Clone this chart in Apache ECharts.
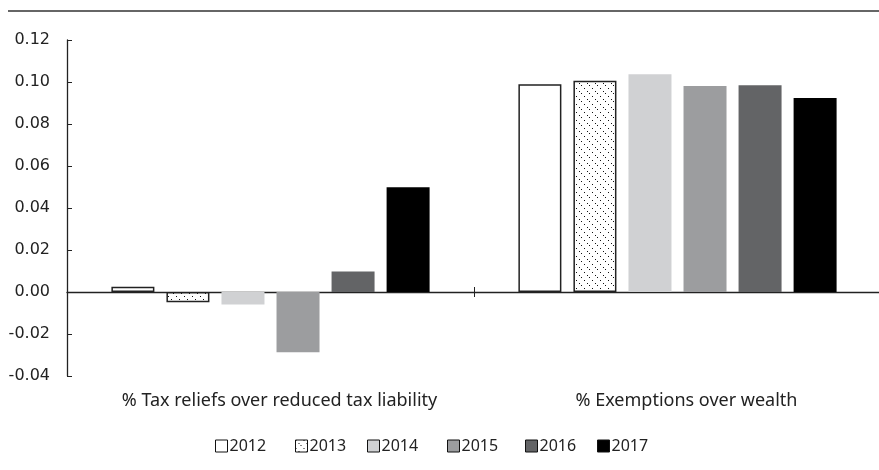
<!DOCTYPE html>
<html>
<head>
<meta charset="utf-8">
<script src="https://cdn.jsdelivr.net/npm/echarts@6/dist/echarts.min.js"></script>
<style>html,body{margin:0;padding:0;background:#fff}#c{width:879px;height:470px}</style>
</head>
<body>
<div id="c"></div>
<script>
var categories = ['% Tax reliefs over reduced tax liability', '% Exemptions over wealth'];
var years = ['2012', '2013', '2014', '2015', '2016', '2017'];
var v2012 = [0.0025, 0.0989];
var v2013 = [-0.0049, 0.1006];
var v2014 = [-0.0060, 0.1037];
var v2015 = [-0.0287, 0.0981];
var v2016 = [0.0098, 0.0984];
var v2017 = [0.0499, 0.0924];
var yTicks = { min: -0.04, max: 0.12, interval: 0.02 };

var seriesValues = [v2012, v2013, v2014, v2015, v2016, v2017];

// dotted diagonal pattern for 2013
var pc = document.createElement('canvas');
pc.width = 8; pc.height = 8;
var pctx = pc.getContext('2d');
pctx.fillStyle = '#fff';
pctx.fillRect(0, 0, 8, 8);
pctx.fillStyle = '#111';
pctx.fillRect(0, 0, 1, 1);
pctx.fillRect(3, 3, 1, 1);
pctx.fillRect(5, 5, 1, 1);

var styles = [
  { color: '#ffffff', borderColor: '#222', borderWidth: 1.5 },
  { color: { image: pc, repeat: 'repeat' }, borderColor: '#222', borderWidth: 1.5 },
  { color: '#d0d1d3' },
  { color: '#9c9d9f' },
  { color: '#636466' },
  { color: '#000000' }
];
var legendLefts = [210, 290, 362, 442, 520, 592];

var series = years.map(function (y, i) {
  return {
    name: y,
    type: 'bar',
    data: seriesValues[i],
    barWidth: 43,
    barGap: '28%',
    itemStyle: styles[i],
    emphasis: { disabled: true }
  };
});

var legends = years.map(function (y, i) {
  return {
    data: [{ name: y, icon: 'rect', itemStyle: { borderColor: '#111', borderWidth: 1 } }],
    left: legendLefts[i],
    top: 433,
    itemWidth: 12,
    itemHeight: 12,
    selectedMode: false,
    textStyle: { fontFamily: 'Noto Sans', fontSize: 16, color: '#222', padding: [0, 0, 0, -3] }
  };
});

var chart = echarts.init(document.getElementById('c'), null, { renderer: 'canvas' });
chart.setOption({
  animation: false,
  backgroundColor: '#fff',
  grid: { left: 67, right: -2, top: 40, bottom: 94, containLabel: false, outerBoundsMode: 'none' },
  legend: legends,
  graphic: [{
    type: 'line',
    shape: { x1: 8, y1: 11, x2: 879, y2: 11 },
    style: { stroke: '#333', lineWidth: 1.5 }
  }],
  xAxis: [{
    type: 'category',
    data: categories,
    position: 'bottom',
    axisLine: { show: false, onZero: false },
    axisTick: { show: false },
    axisLabel: { interval: 0, hideOverlap: false, margin: 16, padding: [0, 0, 0, 18], fontFamily: 'Noto Sans', fontSize: 18, color: '#222' },
    splitLine: { show: false }
  }, {
    type: 'category',
    data: categories,
    position: 'bottom',
    axisLine: { show: true, onZero: true, onZeroAxisIndex: 0, lineStyle: { color: '#222', width: 1.3 } },
    axisTick: { show: true, inside: false, length: 5, lineStyle: { color: '#222' } },
    axisLabel: { show: false },
    splitLine: { show: false }
  }, {
    type: 'category',
    data: categories,
    position: 'bottom',
    axisLine: { show: false, onZero: true, onZeroAxisIndex: 0 },
    axisTick: { show: true, inside: true, length: 5, lineStyle: { color: '#222' } },
    axisLabel: { show: false },
    splitLine: { show: false }
  }],
  yAxis: {
    type: 'value',
    min: yTicks.min,
    max: yTicks.max,
    interval: yTicks.interval,
    axisLine: { show: true, lineStyle: { color: '#222', width: 1.3 } },
    axisTick: { show: true, inside: true, length: 5, lineStyle: { color: '#222' } },
    axisLabel: {
      margin: 17,
      fontFamily: 'DejaVu Sans',
      fontSize: 16,
      color: '#222',
      formatter: function (v) { return v.toFixed(2); }
    },
    splitLine: { show: false }
  },
  series: series
});
</script>
</body>
</html>
